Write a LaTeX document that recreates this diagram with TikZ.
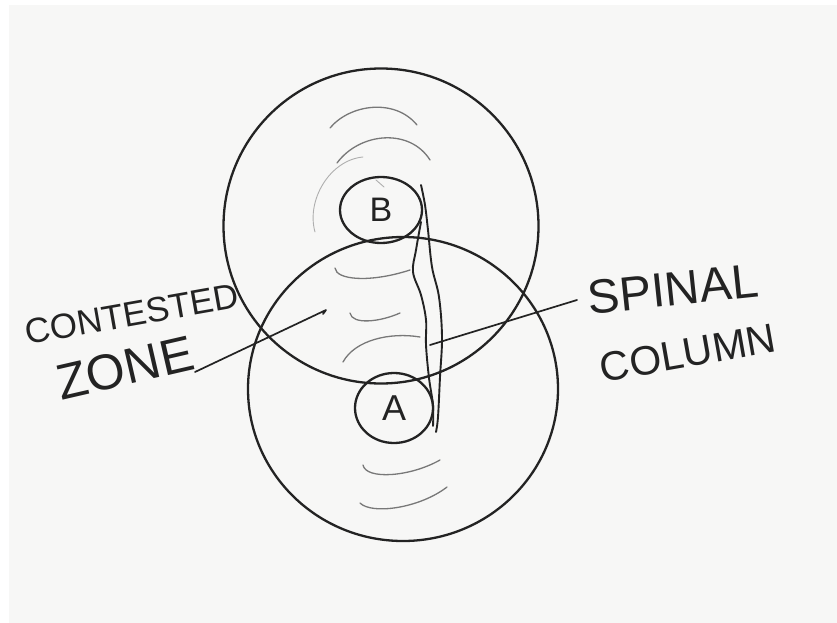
\documentclass[tikz,border=0pt]{standalone}
\usepackage{fontspec}
\setmainfont{Liberation Sans}
\usetikzlibrary{shapes.geometric}
\definecolor{paper}{RGB}{247,247,246}
\definecolor{inkc}{RGB}{35,35,35}
\definecolor{pencilc}{RGB}{120,120,120}
\definecolor{faintc}{RGB}{175,175,175}
\begin{document}
\begin{tikzpicture}[x=1pt,y=-1pt,
  ink/.style={draw=inkc, line width=2.3pt, line cap=round, line join=round},
  thinink/.style={draw=inkc, line width=1.9pt, line cap=round, line join=round},
  pencil/.style={draw=pencilc, line width=1.3pt, line cap=round},
  faint/.style={draw=faintc, line width=0.9pt, line cap=round},
  ring/.style={ellipse, ink, inner sep=0pt, outer sep=0pt},
  hand/.style={text=inkc, inner sep=0pt, anchor=center}]
\useasboundingbox (0,0) rectangle (837,623);
\fill[white] (0,0) rectangle (837,623);
\fill[paper] (9,5) rectangle (837,623);

% big circles
\node[ring, minimum width=315pt, minimum height=315pt] (up) at (381,226) {};
\node[ring, minimum width=310pt, minimum height=304pt] (low) at (403,389) {};

% small circles
\node[ring, minimum width=82pt, minimum height=66pt, font=\fontsize{34}{34}\selectfont, text=inkc] (B) at (381,210) {B};
\node[ring, minimum width=78pt, minimum height=70pt, font=\fontsize{36}{36}\selectfont, text=inkc] (A) at (394,408) {A};

% spinal column strands
\coordinate (s1a) at (421,222);
\coordinate (s1b) at (433,426);
\coordinate (s2a) at (421,185);
\coordinate (s2b) at (436,432);
\draw[thinink] plot[smooth, tension=0.6] coordinates {(s1a) (416,250) (413,272) (421,295) (426,320) (426,345) (429,378) (433,405) (s1b)};
\draw[thinink] plot[smooth, tension=0.6] coordinates {(s2a) (425,205) (428,230) (432,267) (439,297) (442,337) (440,377) (438,417) (s2b)};

% pencil arcs above B
\draw[pencil] (330,128) .. controls (350,104) and (395,98) .. (417,125);
\draw[pencil] (337,163) .. controls (360,132) and (410,128) .. (430,160);
\draw[faint] (315,232) .. controls (306,200) and (330,160) .. (363,157);
\draw[faint] (376,180) -- (384,187);

% pencil arcs in the contested zone
\draw[pencil] (335,268) .. controls (336,280) and (370,283) .. (410,270);
\draw[pencil] (350,313) .. controls (352,325) and (380,322) .. (400,313);
\draw[pencil] (343,362) .. controls (355,340) and (390,332) .. (420,337);

% pencil arcs below A
\draw[pencil] (363,465) .. controls (366,480) and (410,477) .. (440,460);
\draw[pencil] (360,503) .. controls (372,515) and (420,508) .. (447,487);

% labels
\node[hand, rotate=10, font=\fontsize{35}{35}\selectfont] (contested) at (132,314) {CONTESTED};
\node[hand, rotate=13, font=\fontsize{50}{50}\selectfont] (zone) at (125,368) {ZONE};
\node[hand, rotate=6, font=\fontsize{48}{48}\selectfont] (spinal) at (673,289) {SPINAL};
\node[hand, rotate=10, font=\fontsize{41}{41}\selectfont] (column) at (688,353) {COLUMN};

% leaders
\coordinate (czEnd) at (326,310);
\coordinate (czStart) at (195,372);
\draw[thinink, line width=1.7pt] (czStart) -- (czEnd) -- (323,314);
\coordinate (spStart) at (577,300);
\coordinate (spEnd) at (430,345);
\draw[thinink, line width=1.7pt] (spStart) -- (spEnd);
\end{tikzpicture}
\end{document}
